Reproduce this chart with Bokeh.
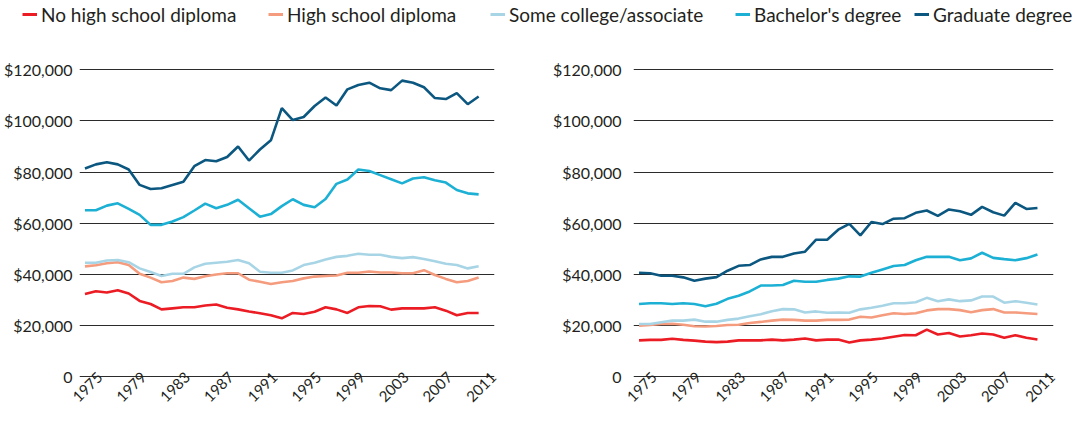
from bokeh.plotting import figure
from bokeh.layouts import column, row
from bokeh.models import (Range1d, FixedTicker, CustomJSTickFormatter, Legend, LegendItem,
                          ColumnDataSource)
from bokeh.embed import file_html
from bokeh.resources import INLINE
import math

years = list(range(1975, 2012))
series_names = ["No high school diploma", "High school diploma", "Some college/associate",
                "Bachelor's degree", "Graduate degree"]
series_colors = ["#ec1c24", "#f59c7e", "#a8d5e6", "#1cb0d4", "#0b5780"]
x_ticks = [1975, 1979, 1983, 1987, 1991, 1995, 1999, 2003, 2007, 2011]
y_ticks = [0, 20000, 40000, 60000, 80000, 100000, 120000]

# Left panel
no_hs_a = [32400, 33500, 33000, 33900, 32600, 29700, 28500, 26400, 26800, 27200,
           27200, 27900, 28300, 27000, 26400, 25600, 24900, 24100, 22900, 25000,
           24600, 25500, 27200, 26400, 25000, 27200, 27700, 27600, 26300, 26800,
           26800, 26800, 27200, 25900, 24100, 25000, 25000]
hs_a = [43200, 43600, 44400, 44800, 43700, 40300, 38800, 37000, 37500, 38800,
        38300, 39300, 40000, 40500, 40500, 38000, 37200, 36300, 37000, 37500,
        38500, 39200, 39400, 39600, 40700, 40700, 41200, 40800, 40800, 40500,
        40500, 41700, 39800, 38300, 37000, 37500, 38800]
some_a = [44600, 44600, 45500, 45700, 44800, 42400, 41000, 39400, 40300, 40300,
          42800, 44200, 44600, 45000, 45700, 44400, 41100, 40700, 40700, 41600,
          43700, 44600, 45900, 46900, 47300, 48100, 47700, 47700, 46900, 46400,
          46800, 46100, 45200, 44200, 43700, 42400, 43200]
bach_a = [65100, 65100, 66900, 67800, 65600, 63300, 59400, 59400, 60700, 62400,
          65000, 67700, 65900, 67200, 69200, 65900, 62600, 63600, 66700, 69400,
          67200, 66300, 69500, 75400, 77100, 81000, 80400, 78800, 77200, 75600,
          77500, 78000, 76800, 75900, 73000, 71700, 71300]
grad_a = [81400, 83000, 83800, 83000, 81000, 75000, 73400, 73700, 75000, 76200,
          82300, 84700, 84200, 85900, 90000, 84500, 88800, 92400, 105000, 100300,
          101500, 105800, 109100, 106000, 112300, 114000, 114900, 112700, 112000, 115700,
          114900, 113100, 108900, 108500, 110800, 106500, 109500]

# Right panel
no_hs_b = [14300, 14500, 14500, 14900, 14500, 14200, 13800, 13600, 13800, 14300,
           14300, 14300, 14600, 14300, 14600, 15000, 14300, 14600, 14600, 13500,
           14300, 14600, 15000, 15700, 16400, 16300, 18500, 16600, 17200, 15800,
           16300, 17000, 16600, 15300, 16300, 15300, 14600]
hs_b = [20000, 20300, 20700, 20800, 20400, 19800, 19700, 19900, 20300, 20400,
        21100, 21500, 22000, 22400, 22300, 22000, 22000, 22300, 22300, 22400,
        23500, 23200, 24100, 24900, 24600, 24900, 26000, 26500, 26500, 26100,
        25300, 26100, 26500, 25200, 25200, 24900, 24600]
some_b = [20700, 20700, 21400, 22000, 22000, 22400, 21600, 21600, 22300, 22800,
          23700, 24500, 25700, 26500, 26400, 25200, 25600, 25100, 25200, 25100,
          26400, 27000, 27800, 28800, 28800, 29200, 30900, 29600, 30300, 29600,
          29900, 31400, 31400, 29000, 29600, 29000, 28300]
bach_b = [28500, 28800, 28800, 28500, 28800, 28500, 27600, 28600, 30500, 31700,
          33400, 35700, 35700, 35900, 37600, 37200, 37200, 37900, 38400, 39300,
          39200, 40700, 42000, 43300, 43700, 45600, 46900, 46900, 46900, 45600,
          46300, 48500, 46500, 46000, 45600, 46400, 47800]
grad_b = [40700, 40500, 39500, 39500, 38900, 37600, 38400, 39000, 41500, 43400,
          43700, 45900, 46900, 46900, 48200, 48900, 53600, 53600, 57500, 59800,
          55300, 60500, 59700, 61800, 62000, 64100, 65000, 62900, 65400, 64700,
          63300, 66400, 64300, 63000, 68000, 65600, 66000]

FONT = "Lato"
TEXT_COLOR = "#231f20"
LABEL_SHIFT = 1.35  # rotated year labels are centred under their year

yfmt = CustomJSTickFormatter(code="""
if (Math.abs(tick) < 1) { return "0"; }
return "$" + Math.round(tick).toString().replace(/\\B(?=(\\d{3})+(?!\\d))/g, ",");
""")
xfmt = CustomJSTickFormatter(args=dict(shift=LABEL_SHIFT),
                             code="return String(Math.round(tick - shift));")


def make_panel(series, width, border_left, border_right, standoff):
    p = figure(width=width, height=381, output_backend="svg", toolbar_location=None,
               x_range=Range1d(1974.5, 2012.45), y_range=Range1d(-200, 131370),
               min_border_left=border_left, min_border_right=border_right,
               min_border_top=12, min_border_bottom=30)
    p.outline_line_color = None
    p.xgrid.grid_line_color = None
    p.ygrid.grid_line_color = "#2b2b2b"
    p.ygrid.grid_line_width = 1
    p.ygrid.ticker = FixedTicker(ticks=y_ticks)
    p.yaxis.ticker = FixedTicker(ticks=y_ticks)
    p.yaxis.formatter = yfmt
    p.xaxis.ticker = FixedTicker(ticks=[t + LABEL_SHIFT for t in x_ticks])
    p.xaxis.formatter = xfmt
    for ax in (p.xaxis[0], p.yaxis[0]):
        ax.axis_line_color = None
        ax.major_tick_line_color = None
        ax.minor_tick_line_color = None
        ax.major_tick_out = 0
        ax.major_tick_in = 0
        ax.major_label_text_font = FONT
        ax.major_label_text_color = TEXT_COLOR
    p.yaxis.major_label_text_font_size = "16px"
    p.yaxis.major_label_standoff = standoff
    p.xaxis.major_label_text_font_size = "15px"
    p.xaxis.major_label_orientation = math.pi / 4
    p.xaxis.major_label_standoff = -3
    for vals, color in zip(series, series_colors):
        src = ColumnDataSource(dict(x=years, y=vals))
        p.line("x", "y", source=src, line_color=color, line_width=2.6)
    return p


p1 = make_panel([no_hs_a, hs_a, some_a, bach_a, grad_a], 537, 79, 43, 7)
p2 = make_panel([no_hs_b, hs_b, some_b, bach_b, grad_b], 535, 96, 19, 12)

# Legend strip: one legend entry per series, placed along the top
legend_x = [22, 268, 490, 735, 914]
lg = figure(width=1072, height=28, output_backend="svg", toolbar_location=None,
            x_range=Range1d(0, 1), y_range=Range1d(0, 1),
            min_border_left=0, min_border_right=0, min_border_top=0, min_border_bottom=0)
lg.axis.visible = False
lg.grid.visible = False
lg.outline_line_color = None
for name, color, lx in zip(series_names, series_colors, legend_x):
    r = lg.line(x=[5, 6], y=[5, 5], line_color=color, line_width=3)
    leg = Legend(items=[LegendItem(label=name, renderers=[r])], location=(lx, 0),
                 label_text_font=FONT, label_text_font_size="19px",
                 label_text_color=TEXT_COLOR, label_text_baseline="alphabetic",
                 glyph_width=15, glyph_height=12, label_standoff=4,
                 padding=0, margin=0, border_line_color=None,
                 background_fill_alpha=0, label_height=28)
    lg.add_layout(leg)

layout = column(lg, row(p1, p2))
open("out.html", "w").write(file_html(layout, INLINE))
